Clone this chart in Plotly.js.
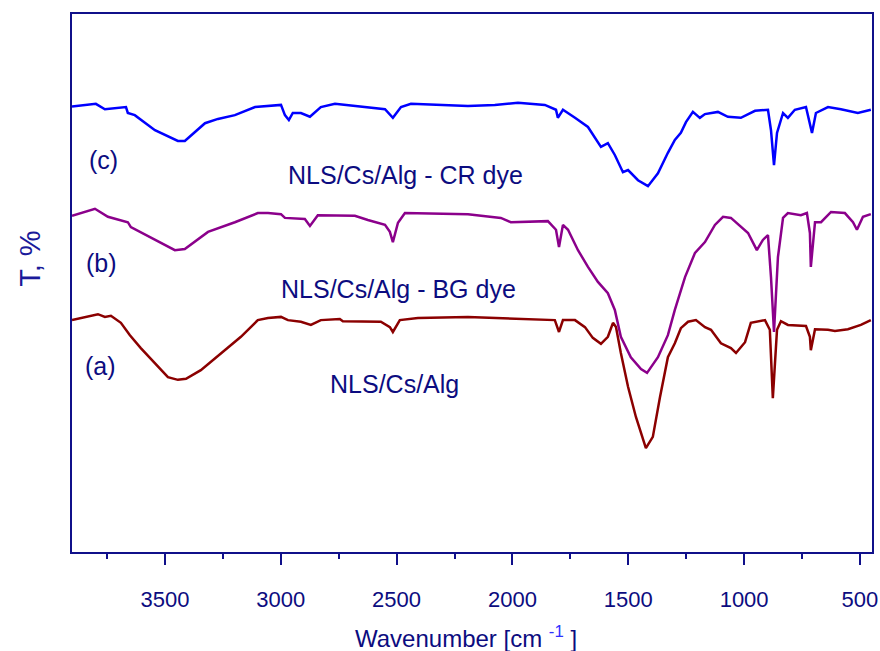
<!DOCTYPE html>
<html>
<head>
<meta charset="utf-8">
<script src="https://cdn.plot.ly/plotly-3.0.1.min.js"></script>
<style>html,body{margin:0;padding:0;background:#fff;}#chart{width:880px;height:651px;}</style>
</head>
<body>
<div id="chart"></div>
<script>
// Wavenumber (cm-1) and transmittance (arbitrary offset units)
const wnC = [3901,3798,3759,3668,3660,3630,3543,3444,3414,3327,3271,3198,3111,3055,2999,2982,2965,2948,2913,2874,2827,2766,2624,2550,2516,2481,2438,2192,2076,1976,1860,1812,1804,1782,1730,1674,1618,1588,1558,1523,1501,1458,1415,1372,1329,1299,1273,1251,1221,1191,1169,1113,1070,1014,953,897,884,871,858,832,811,781,733,716,707,690,638,582,509,453];
const tC  = [82.8,83.3,82.3,82.7,81.6,81.2,78.4,76.4,76.4,79.7,80.5,81.2,82.7,82.9,83.1,81.2,80.3,81.6,81.6,80.9,82.7,83.3,82.7,82.3,80.7,82.7,83.3,82.9,83.1,83.5,83.1,82.2,80.7,82.2,80.7,79.0,75.3,76.0,73.8,70.6,71.0,69.1,68.0,70.4,74.2,76.6,77.9,79.9,81.8,80.7,81.4,81.8,80.9,80.7,82.0,82.2,78.4,71.9,77.9,81.6,80.7,82.2,82.7,79.7,77.9,81.6,82.7,82.3,81.6,82.2];

const wnB = [3901,3802,3746,3660,3647,3543,3457,3414,3314,3198,3099,3055,2999,2982,2896,2874,2840,2680,2624,2550,2529,2516,2494,2464,2192,2050,2007,1847,1812,1799,1782,1760,1717,1674,1631,1588,1558,1532,1489,1445,1419,1372,1329,1299,1255,1212,1169,1126,1091,1057,1014,983,945,919,897,884,871,854,832,811,755,729,716,712,694,668,625,565,530,513,487,453];
const tB  = [62.5,63.8,62.3,61.3,60.4,58.0,56.1,56.3,59.5,61.3,63.0,63.0,62.8,62.1,61.9,60.6,62.6,62.5,61.7,60.8,59.5,57.6,61.2,63.0,62.8,62.1,61.3,61.5,59.9,56.7,60.8,59.9,56.1,53.0,50.2,48.1,45.0,40.0,36.2,34.0,33.3,36.2,40.3,45.0,51.1,55.6,57.6,60.8,62.3,62.1,60.4,59.3,56.1,58.0,58.9,51.1,40.9,54.8,62.1,63.0,62.6,63.0,59.3,53.0,61.3,61.3,63.2,63.0,61.3,59.9,62.3,62.8];

const wnA = [3901,3789,3759,3733,3690,3651,3604,3543,3487,3444,3409,3345,3258,3172,3099,3055,2999,2969,2913,2870,2827,2745,2732,2568,2529,2516,2486,2408,2192,1881,1817,1799,1782,1730,1687,1653,1618,1588,1566,1553,1532,1501,1467,1424,1394,1363,1329,1299,1273,1242,1208,1169,1143,1100,1057,1035,996,971,910,889,876,858,841,811,733,716,712,694,638,608,552,496,453];
const tA  = [43.1,44.2,43.7,43.9,42.6,40.3,37.9,35.1,32.5,32.0,32.2,33.8,37.0,40.0,43.1,43.5,43.7,43.1,42.8,42.2,43.1,43.3,42.9,42.8,41.8,40.9,43.1,43.5,43.7,43.3,43.1,40.9,43.1,43.1,41.8,39.8,38.7,40.0,42.6,41.8,37.0,30.7,25.1,19.3,21.4,28.8,36.2,38.8,41.6,42.8,43.1,41.8,41.3,38.8,37.9,37.0,39.0,42.6,43.1,41.3,28.6,41.3,42.9,42.2,42.0,40.0,37.5,41.4,41.3,41.1,41.4,42.2,43.1];

const xTickVals = [3500,3000,2500,2000,1500,1000,500];
const xTickText = ["3500","3000","2500","2000","1500","1000","500"];

const navy = "#10108a";
const txt = "#0c0c80";
const FF = "Liberation Sans, Arial, sans-serif";

const traces = [
  {x: wnA, y: tA, mode: "lines", line: {color: "#8b0000", width: 2.5}, name: "(a)"},
  {x: wnB, y: tB, mode: "lines", line: {color: "#8b008b", width: 2.5}, name: "(b)"},
  {x: wnC, y: tC, mode: "lines", line: {color: "#0000ff", width: 2.5}, name: "(c)"}
];

const layout = {
  width: 880, height: 651,
  margin: {l: 72, r: 8, t: 14, b: 99},
  paper_bgcolor: "#fff", plot_bgcolor: "#fff",
  showlegend: false,
  font: {family: FF, color: txt},
  xaxis: {
    range: [3901, 448], autorange: false,
    tickvals: xTickVals, ticktext: xTickText,
    ticks: "outside", ticklen: 11, tickwidth: 2, tickcolor: navy,
    minor: {dtick: 250, tick0: 0, ticks: "outside", ticklen: 5, tickwidth: 2, tickcolor: navy, showgrid: false},
    showline: true, linecolor: navy, linewidth: 2, mirror: true,
    showgrid: false, zeroline: false,
    tickfont: {family: FF, size: 22, color: txt},
    ticklabelstandoff: 16
  },
  yaxis: {
    range: [0, 100], autorange: false,
    showticklabels: false, ticks: "",
    showline: true, linecolor: navy, linewidth: 2, mirror: true,
    showgrid: false, zeroline: false
  },
  annotations: [
    {text: "T, %", textangle: -90, xref: "paper", yref: "paper", x: -0.0525, y: 0.545, xanchor: "center", yanchor: "middle", showarrow: false, font: {family: FF, size: 29, color: "#1a1a9a"}},
    {text: "Wavenumber [cm <sup><span style=\"color:#3030ff\">-1</span></sup> ]", xref: "paper", yref: "paper", x: 0.493, y: -0.158, xanchor: "center", yanchor: "middle", showarrow: false, font: {family: FF, size: 24, color: txt}},
    {text: "(c)", xref: "paper", yref: "paper", x: (103-72)/800, y: (552-160)/538, xanchor: "center", yanchor: "middle", showarrow: false, font: {family: FF, size: 25, color: txt}},
    {text: "(b)", xref: "paper", yref: "paper", x: (101-72)/800, y: (552-263)/538, xanchor: "center", yanchor: "middle", showarrow: false, font: {family: FF, size: 25, color: txt}},
    {text: "(a)", xref: "paper", yref: "paper", x: (100-72)/800, y: (552-366)/538, xanchor: "center", yanchor: "middle", showarrow: false, font: {family: FF, size: 25, color: txt}},
    {text: "NLS/Cs/Alg - CR dye", xref: "paper", yref: "paper", x: (405-72)/800, y: (552-175)/538, xanchor: "center", yanchor: "middle", showarrow: false, font: {family: FF, size: 25, color: txt}},
    {text: "NLS/Cs/Alg - BG dye", xref: "paper", yref: "paper", x: (398.5-72)/800, y: (552-289)/538, xanchor: "center", yanchor: "middle", showarrow: false, font: {family: FF, size: 25, color: txt}},
    {text: "NLS/Cs/Alg", xref: "paper", yref: "paper", x: (394-72)/800, y: (552-384)/538, xanchor: "center", yanchor: "middle", showarrow: false, font: {family: FF, size: 25, color: txt}}
  ]
};

Plotly.newPlot("chart", traces, layout, {displayModeBar: false, staticPlot: true});
</script>
</body>
</html>
